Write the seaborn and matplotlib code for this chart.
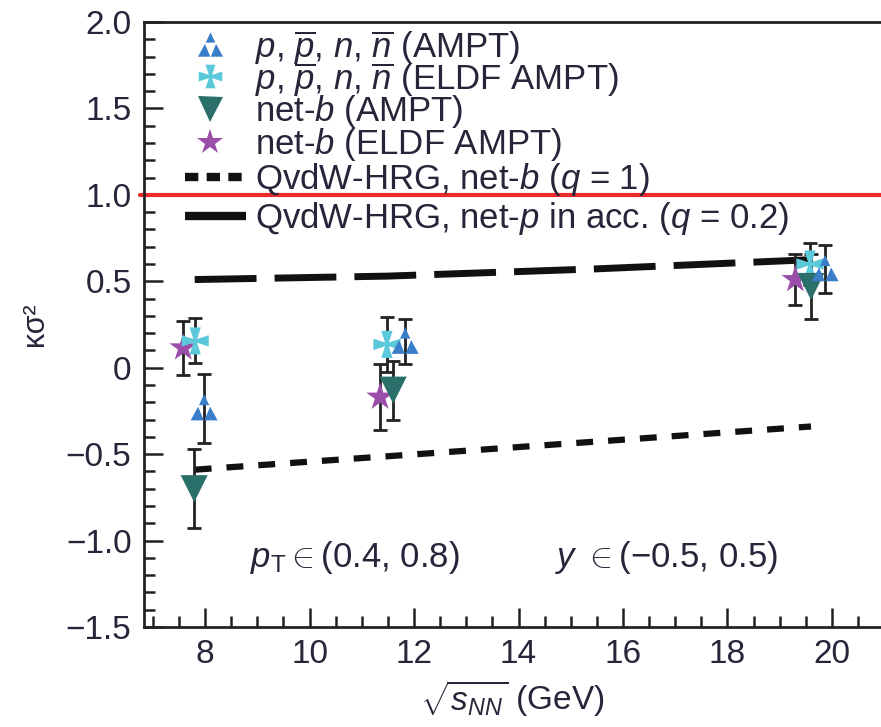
import numpy as np
import pandas as pd
import matplotlib
matplotlib.use("Agg")
import matplotlib.pyplot as plt
from matplotlib.path import Path
import seaborn as sns

# ---- data -------------------------------------------------------------
# p, pbar, n, nbar (AMPT)
x_p_ampt = [7.98, 11.83, 19.87]
y_p_ampt = [-0.235, 0.15, 0.57]
e_p_ampt = [0.20, 0.13, 0.14]

# p, pbar, n, nbar (ELDF AMPT)
x_p_eldf = [7.81, 11.48, 19.58]
y_p_eldf = [0.155, 0.135, 0.60]
e_p_eldf = [0.13, 0.16, 0.12]

# net-b (AMPT)
x_b_ampt = [7.79, 11.60, 19.60]
y_b_ampt = [-0.70, -0.13, 0.47]
e_b_ampt = [0.23, 0.17, 0.19]

# net-b (ELDF AMPT)
x_b_eldf = [7.58, 11.35, 19.30]
y_b_eldf = [0.115, -0.17, 0.51]
e_b_eldf = [0.155, 0.19, 0.15]

# QvdW-HRG curves
x_hrg_b = [7.8, 11.6, 19.6]
y_hrg_b = [-0.59, -0.51, -0.34]
x_hrg_p = [7.8, 11.5, 15.5, 19.6]
y_hrg_p = [0.51, 0.53, 0.572, 0.625]

yticks = [-1.5, -1.0, -0.5, 0, 0.5, 1.0, 1.5, 2.0]
ytick_labels = ["\u22121.5", "\u22121.0", "\u22120.5", "0", "0.5", "1.0", "1.5", "2.0"]
xticks = [8, 10, 12, 14, 16, 18, 20]

labels = [
    r"$p$, $\overline{p}$, $n$, $\overline{n}$ (AMPT)",
    r"$p$, $\overline{p}$, $n$, $\overline{n}$ (ELDF AMPT)",
    r"net-$b$ (AMPT)",
    r"net-$b$ (ELDF AMPT)",
    r"QvdW-HRG, net-$b$ ($q$ = 1)",
    r"QvdW-HRG, net-$p$ in acc. ($q$ = 0.2)",
]

# ---- style ------------------------------------------------------------
sns.set_theme(style="ticks")
plt.rcParams["font.family"] = ["Liberation Sans", "DejaVu Sans"]
plt.rcParams["mathtext.fontset"] = "custom"
plt.rcParams["mathtext.rm"] = "Liberation Sans"
plt.rcParams["mathtext.it"] = "Liberation Sans:italic"
plt.rcParams["mathtext.bf"] = "Liberation Sans:bold"
TXT = "#26263a"
FS = 24

C_BLUE = "#3a7dc8"
C_CYAN = "#5cc9da"
C_TEAL = "#2b6f6b"
C_PURP = "#9a4ea8"
C_RED = "#ec2a2a"

# custom marker shapes
tri_verts = [(0, 1.0), (-0.36, 0.22), (0.36, 0.22), (0, 1.0),
             (-0.42, 0.12), (-0.95, -0.85), (-0.02, -0.85), (-0.42, 0.12),
             (0.42, 0.12), (0.02, -0.85), (0.95, -0.85), (0.42, 0.12)]
tri_codes = [Path.MOVETO, Path.LINETO, Path.LINETO, Path.CLOSEPOLY] * 3
TRI3 = Path(tri_verts, tri_codes)

c = 0.14
cross_verts = [(-c, c), (-0.42, 1), (0.42, 1), (c, c), (1, 0.42), (1, -0.42),
               (c, -c), (0.42, -1), (-0.42, -1), (-c, -c), (-1, -0.42),
               (-1, 0.42), (-c, c)]
CROSS = Path(cross_verts, [Path.MOVETO] + [Path.LINETO] * 11 + [Path.CLOSEPOLY])

fig = plt.figure(figsize=(8.81, 7.27), dpi=100)
ax = fig.add_axes([0.1635, 0.1376, 0.8365, 0.8321])

# reference line at unity
ax.axhline(1.0, color=C_RED, lw=3, zorder=1, clip_on=False, xmin=-0.006)

# model curves
sns.lineplot(x=x_hrg_p, y=y_hrg_p, ax=ax, color="#111111", lw=5,
             linestyle=(0, (8.9, 2.6)), zorder=2)
sns.lineplot(x=x_hrg_b, y=y_hrg_b, ax=ax, color="#111111", lw=4.5,
             linestyle=(0, (2.7, 2.4)), zorder=2)

series = [
    (x_b_eldf, y_b_eldf, e_b_eldf, "*", C_PURP, 440),
    (x_p_eldf, y_p_eldf, e_p_eldf, CROSS, C_CYAN, 380),
    (x_b_ampt, y_b_ampt, e_b_ampt, "v", C_TEAL, 380),
    (x_p_ampt, y_p_ampt, e_p_ampt, TRI3, C_BLUE, 420),
]
for xs, ys, es, mk, col, sz in series:
    ax.errorbar(xs, ys, yerr=es, fmt="none", ecolor="#222222", elinewidth=2,
                capsize=5, capthick=2, zorder=3)
    sns.scatterplot(x=xs, y=ys, ax=ax, marker=mk, color=col, s=sz,
                    edgecolor="none", linewidth=0, zorder=4)

# axes
ax.set_xlim(6.83, 20.94)
ax.set_ylim(-1.5, 2.0)
ax.set_xticks(xticks)
ax.set_xticks(np.arange(7.0, 21.0, 0.5), minor=True)
ax.set_yticks(yticks)
ax.set_yticklabels(ytick_labels)
ax.set_yticks(np.arange(-1.5, 2.01, 0.1), minor=True)
ax.tick_params(which="both", direction="in", width=1.8, colors="#222222",
               labelcolor=TXT, labelsize=FS)
ax.tick_params(which="major", length=14, pad=9)
ax.tick_params(which="minor", length=8)
for s in ["left", "bottom", "top"]:
    ax.spines[s].set_linewidth(2)
    ax.spines[s].set_color("#222222")
ax.spines["right"].set_visible(False)

ax.set_xlabel(r"$\sqrt{s_{NN}}$ (GeV)", fontsize=FS, color=TXT, labelpad=6)
ax.set_ylabel("\u03ba\u03c3\u00b2", fontsize=22, color=TXT)
ax.yaxis.set_label_coords(-0.128, 0.5)

ax.text(8.85, -1.10, r"$p_\mathrm{T} \in$(0.4, 0.8)", fontsize=25, color=TXT,
        va="center", ha="left")
ax.text(14.7, -1.10, r"$y$ $\in$(" + "\u2212" + "0.5, 0.5)", fontsize=25,
        color=TXT, va="center", ha="left")

# legend, laid out as a tight stack of rows in axes coordinates
row_y = [0.957, 0.905, 0.852, 0.797, 0.740, 0.676]
key_x, text_x = 0.09, 0.150
T = ax.transAxes
ax.plot([key_x], [row_y[0] + 0.005], ls="none", marker=TRI3, color=C_BLUE,
        ms=19, mew=0, transform=T, clip_on=False)
ax.plot([key_x], [row_y[1] + 0.005], ls="none", marker=CROSS, color=C_CYAN,
        ms=17, mew=0, transform=T, clip_on=False)
ax.plot([key_x], [row_y[2] + 0.005], ls="none", marker="v", color=C_TEAL,
        ms=18, mew=0, transform=T, clip_on=False)
ax.plot([key_x], [row_y[3] + 0.005], ls="none", marker="*", color=C_PURP,
        ms=19, mew=0, transform=T, clip_on=False)
ax.plot([0.056, 0.138], [row_y[4] + 0.003] * 2, color="#111111", lw=6,
        ls=(0, (1.6, 1.0)), transform=T, clip_on=False)
ax.plot([0.056, 0.138], [row_y[5] + 0.003] * 2, color="#111111", lw=6,
        transform=T, clip_on=False, solid_capstyle="butt")
for yy, lab in zip(row_y, labels):
    ax.text(text_x, yy, lab, fontsize=25, color=TXT, va="center", ha="left",
            transform=T)

fig.savefig("out.png", dpi=100)
